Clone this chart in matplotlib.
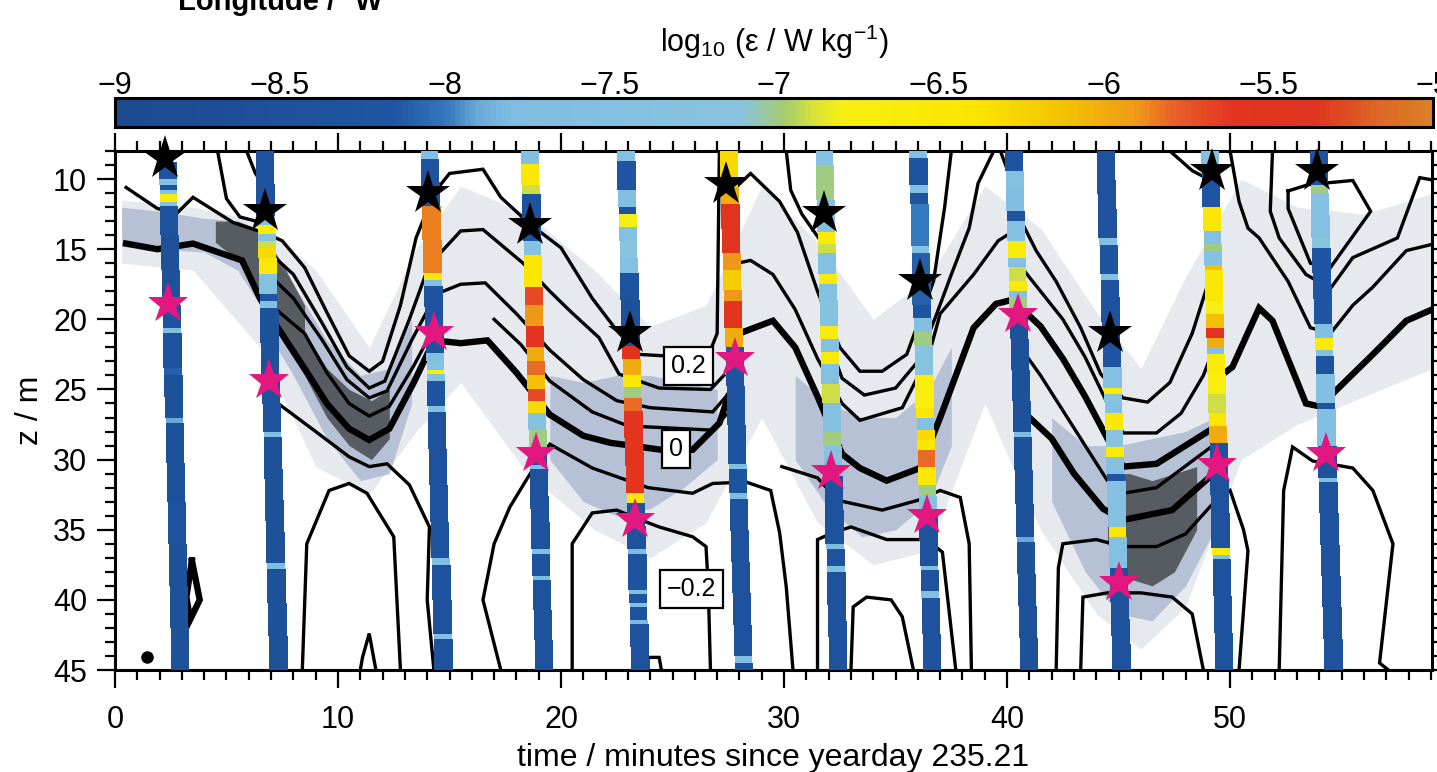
import matplotlib
matplotlib.use("Agg")
import matplotlib.pyplot as plt
import numpy as np
from matplotlib.colors import LinearSegmentedColormap, Normalize
from matplotlib.cm import ScalarMappable
from matplotlib.ticker import MultipleLocator

plt.rcParams['font.family'] = ['Liberation Sans', 'DejaVu Sans']
plt.rcParams['mathtext.default'] = 'regular'

# ---- microstructure profiles: time at top (z=8 m) and bottom (z=45 m) of each drop
prof_t_top = [2.35, 6.7, 14.1, 18.6, 22.9, 27.5, 31.8, 36.0, 40.3, 44.4, 49.1, 53.95]
prof_t_bot = [2.95, 7.35, 14.75, 19.25, 23.55, 28.2, 32.45, 36.65, 41.0, 45.15, 49.75, 54.65]

# segment edges (m) and log10 epsilon of each segment
p1_z = [8.8, 10.0, 10.4, 10.8, 11.1, 11.6, 11.9, 14.0, 19.0, 20.6, 21.0, 23.5, 24.0, 27.0, 27.4, 33.0, 36.0, 45.0]
p1_e = [-8.3, -7.6, -8.4, -7.6, -6.6, -7.5, -8.4, -8.5, -8.4, -7.7, -8.4, -8.1, -8.5, -7.9, -8.5, -8.4, -8.5]
p2_z = [8.0, 12.6, 13.3, 13.9, 14.4, 14.9, 15.6, 16.8, 18.2, 18.7, 19.2, 19.4, 24.0, 28.0, 28.4, 37.4, 37.8, 45.0]
p2_e = [-8.4, -7.5, -6.6, -7.4, -6.9, -6.3, -6.5, -7.4, -8.2, -7.6, -8.4, -8.5, -8.4, -7.7, -8.5, -7.8, -8.5]
p3_z = [8.0, 8.6, 11.9, 16.7, 17.2, 17.6, 20.6, 22.4, 23.0, 23.6, 23.9, 24.4, 26.2, 26.6, 37.0, 37.5, 42.4, 42.8, 45.0]
p3_e = [-7.6, -8.3, -5.85, -6.5, -7.6, -8.3, -8.4, -7.6, -7.3, -6.6, -7.5, -8.3, -7.6, -8.4, -7.7, -8.4, -7.6, -8.4]
p4_z = [8.0, 8.9, 10.4, 11.1, 14.4, 15.4, 17.7, 19.0, 20.5, 22.0, 23.0, 24.0, 25.0, 25.8, 26.7, 27.9, 29.6,
        30.4, 30.7, 36.4, 36.7, 38.3, 38.6, 45.0]
p4_e = [-7.6, -6.5, -6.9, -8.3, -7.3, -6.5, -5.7, -5.9, -5.6, -6.0, -5.8, -6.1, -5.7, -6.3, -7.3, -7.0, -8.3,
        -7.6, -8.4, -7.7, -8.4, -7.8, -8.4]
p5_z = [8.0, 8.7, 10.8, 12.0, 12.5, 13.4, 14.4, 15.6, 16.7, 18.6, 21.9, 22.8, 24.0, 24.8, 25.6, 26.5, 32.4,
        33.1, 36.4, 36.7, 39.3, 39.6, 40.2, 40.5, 41.4, 41.7, 45.0]
p5_e = [-7.5, -8.2, -7.6, -8.3, -6.8, -7.5, -7.1, -7.5, -8.3, -8.5, -5.5, -6.0, -6.5, -7.0, -5.8, -5.6, -6.5,
        -8.4, -7.8, -8.4, -7.6, -8.3, -7.6, -8.4, -7.8, -8.4]
p6_z = [8.0, 10.6, 11.8, 15.3, 16.5, 17.9, 18.7, 20.6, 22.0, 30.3, 30.7, 32.4, 32.8, 44.0, 44.5, 45.0]
p6_e = [-6.3, -6.0, -5.5, -5.9, -6.2, -5.9, -5.6, -6.0, -8.3, -7.7, -8.3, -7.8, -8.4, -7.6, -8.4]
p7_z = [8.0, 9.0, 11.5, 13.8, 14.6, 15.3, 16.8, 17.5, 18.6, 20.5, 21.4, 22.3, 23.2, 24.6, 26.0, 28.0, 29.0,
        31.2, 36.0, 36.4, 37.6, 38.0, 45.0]
p7_e = [-7.5, -7.0, -7.5, -6.6, -6.9, -7.5, -6.6, -7.5, -7.3, -6.6, -7.4, -6.6, -7.4, -6.9, -7.4, -7.0, -7.3,
        -8.4, -7.8, -8.4, -7.7, -8.4]
p8_z = [8.0, 8.5, 10.4, 11.0, 11.8, 14.8, 15.3, 19.0, 19.9, 20.9, 21.8, 24.0, 26.3, 27.0, 27.9, 28.6, 29.3,
        30.5, 31.8, 32.6, 34.0, 37.6, 37.9, 39.4, 39.9, 45.0]
p8_e = [-7.6, -8.3, -7.7, -8.4, -8.0, -7.5, -8.1, -8.3, -7.6, -7.0, -7.2, -6.7, -6.5, -7.5, -6.3, -6.5, -5.8,
        -6.5, -7.0, -7.5, -8.4, -7.7, -8.4, -7.6, -8.4]
p9_z = [8.0, 9.4, 10.6, 12.3, 13.0, 14.4, 15.6, 16.3, 17.3, 18.0, 18.4, 19.2, 28.0, 28.4, 35.5, 35.9, 45.0]
p9_e = [-8.3, -7.5, -7.7, -8.3, -7.5, -6.6, -7.5, -6.9, -6.6, -7.5, -7.0, -8.5, -7.8, -8.5, -7.9, -8.5]
p10_z = [8.0, 14.2, 14.7, 16.8, 17.2, 18.4, 22.0, 23.4, 24.9, 25.3, 25.8, 26.7, 27.9, 29.1, 29.8, 31.0, 31.5,
         34.8, 35.5, 37.7, 45.0]
p10_e = [-8.4, -7.6, -8.3, -7.6, -8.3, -8.4, -8.2, -7.5, -6.6, -7.2, -7.5, -6.5, -7.2, -6.6, -7.5, -8.2, -7.5,
         -6.4, -7.5, -8.4]
p11_z = [8.0, 9.0, 10.4, 12.0, 13.7, 14.6, 15.1, 16.1, 16.5, 18.7, 19.6, 20.6, 21.3, 22.0, 22.5, 23.9, 25.3,
         26.7, 27.6, 28.8, 36.3, 36.8, 37.1, 45.0]
p11_e = [-7.6, -8.3, -8.2, -6.5, -7.5, -7.0, -7.5, -6.1, -6.5, -6.8, -6.1, -5.6, -6.0, -7.5, -6.6, -6.7, -6.9,
         -6.4, -6.0, -8.4, -6.6, -7.6, -8.4]
p12_z = [8.0, 10.4, 11.0, 14.2, 14.9, 20.3, 21.3, 22.2, 22.6, 23.9, 26.0, 26.4, 29.0, 31.3, 31.6, 45.0]
p12_e = [-8.3, -7.0, -7.5, -7.1, -8.2, -7.6, -6.6, -7.5, -8.3, -7.6, -8.3, -7.6, -8.4, -7.7, -8.4]

prof_z = [p1_z, p2_z, p3_z, p4_z, p5_z, p6_z, p7_z, p8_z, p9_z, p10_z, p11_z, p12_z]
prof_e = [p1_e, p2_e, p3_e, p4_e, p5_e, p6_e, p7_e, p8_e, p9_e, p10_e, p11_e, p12_e]

# ---- star markers
black_t = [2.24, 6.73, 14.05, 18.6, 23.1, 27.4, 31.8, 36.1, 44.6, 49.2, 53.9]
black_z = [8.5, 12.3, 11.0, 13.3, 21.0, 10.35, 12.4, 17.3, 21.0, 9.4, 9.4]
pink_t = [2.4, 6.9, 14.3, 18.9, 23.3, 27.8, 32.1, 36.4, 40.5, 45.0, 49.4, 54.3]
pink_z = [18.9, 24.4, 21.0, 29.6, 34.3, 22.8, 30.9, 34.0, 19.7, 38.8, 30.4, 29.6]

# ---- contour lines (time, depth)
iso_02 = [(0.5, 10.6), (1.9, 12.1), (2.8, 12.4), (3.5, 11.3), (5.3, 13.1), (6.8, 13.9), (7.5, 14.4), (8.5, 16.3),
          (9.5, 19.5), (10.5, 22.6), (11.4, 23.7), (12.0, 23.0), (12.8, 19.0), (13.5, 14.2), (14.3, 11.0),
          (15.0, 9.6), (16.5, 9.3), (17.3, 11.3), (18.6, 13.2), (20.0, 14.9), (21.4, 18.5), (22.5, 20.8),
          (23.5, 22.5), (25.7, 22.7), (26.6, 22.6), (27.0, 21.0), (27.1, 8.0)]
top_a = [(4.6, 8.0), (5.0, 11.4), (5.6, 12.7), (6.8, 13.2)]
top_b = [(5.9, 8.0), (6.3, 9.6), (6.9, 11.0)]
iso_015 = [(6.9, 15.2), (8.0, 16.8), (9.3, 20.3), (10.4, 23.4), (11.4, 24.9), (12.1, 24.4), (13.2, 20.0),
           (14.0, 16.5), (14.4, 15.6), (15.5, 13.7), (16.5, 13.6), (18.3, 16.0), (19.5, 18.0), (20.4, 19.4),
           (21.7, 21.3), (22.6, 23.9), (23.5, 24.4), (24.4, 24.9), (26.7, 25.0), (27.3, 24.0)]
iso_010 = [(6.9, 16.8), (8.0, 18.5), (9.3, 21.5), (10.4, 24.3), (11.4, 25.6), (12.2, 25.1), (13.3, 21.5),
           (14.4, 18.2), (15.5, 17.5), (16.6, 17.4), (18.0, 19.6), (19.5, 22.2), (21.0, 24.3), (22.5, 25.8),
           (24.0, 26.3), (26.8, 26.6), (27.4, 25.5)]
iso_005a = [(7.0, 19.0), (8.5, 21.0), (9.5, 23.8), (10.5, 26.0), (11.4, 26.9), (12.3, 26.2), (13.4, 23.3),
            (14.4, 20.3)]
iso_005b = [(17.0, 20.0), (18.2, 21.8), (19.5, 24.4), (21.4, 26.6), (23.0, 27.6), (26.8, 27.9), (27.4, 26.8)]
iso_0 = [(0.5, 14.6), (1.9, 15.0), (3.5, 14.6), (5.7, 15.8), (6.5, 18.5), (7.3, 20.6), (8.5, 23.5), (9.5, 26.0),
         (10.5, 27.8), (11.4, 28.6), (12.3, 27.8), (13.4, 24.5), (14.3, 21.5), (15.5, 21.7), (16.7, 21.5),
         (18.0, 23.8), (19.5, 26.8), (21.0, 28.3), (22.2, 28.8), (24.5, 29.3), (25.9, 29.3), (27.1, 27.4),
         (27.5, 25.5)]
iso_m005 = [(6.9, 25.5), (7.4, 26.1), (9.0, 28.0), (10.5, 29.8), (11.4, 30.5), (12.2, 30.3), (13.2, 31.8),
            (14.1, 34.8), (14.0, 40.0), (14.3, 45.0)]
arch1 = [(8.4, 45.0), (8.6, 36.0), (9.6, 32.2), (10.5, 31.7), (11.3, 32.4), (12.5, 35.5), (12.8, 45.0)]
arch1_in = [(11.0, 45.0), (11.1, 44.1), (11.4, 42.4), (11.7, 45.0)]
loop1 = [(3.45, 37.2), (3.8, 40.0), (3.37, 41.4), (3.2, 39.8), (3.45, 37.2)]
arch2 = [(17.3, 45.0), (16.5, 40.0), (17.0, 36.0), (17.7, 33.4), (18.5, 31.3), (19.5, 28.9), (21.4, 30.6),
         (23.9, 32.0), (25.9, 32.4), (26.8, 31.7), (28.3, 31.6), (29.4, 32.2), (29.8, 35.2), (30.1, 39.1),
         (30.4, 45.0)]
arch2_in = [(20.5, 45.0), (20.5, 36.0), (21.4, 33.8), (22.5, 33.6), (23.9, 34.5), (24.4, 34.8), (25.9, 35.5),
            (26.5, 36.2), (26.6, 39.0), (26.7, 45.0)]
bump2 = [(23.9, 45.0), (23.9, 44.1), (24.4, 44.1), (24.5, 45.0)]
r_top = [(30.1, 8.0), (30.3, 10.8), (30.8, 12.5), (31.9, 15.0)]
r_1 = [(27.9, 10.5), (28.5, 9.6), (29.8, 11.6), (30.6, 13.8), (31.5, 18.0), (32.5, 22.0), (33.4, 23.7),
       (34.4, 23.7), (35.5, 22.5), (36.7, 17.3), (37.2, 12.0), (37.5, 8.0)]
r_1b = [(39.4, 8.0), (38.7, 10.3), (38.3, 13.5), (37.5, 16.8), (36.8, 19.8), (36.0, 23.0), (35.0, 24.9),
        (33.6, 25.4), (32.6, 24.2), (32.1, 22.0)]
r_2 = [(27.9, 16.0), (28.5, 15.8), (29.5, 16.8), (30.5, 19.3), (31.5, 22.8), (32.6, 26.0), (33.4, 27.2),
       (35.3, 26.3), (36.5, 22.5), (37.0, 19.6), (38.5, 16.8), (39.6, 14.4), (40.5, 13.5)]
r_3 = [(28.0, 21.0), (29.5, 20.1), (30.5, 22.0), (31.5, 25.5), (32.6, 29.6), (33.4, 30.6), (34.6, 31.5),
       (36.1, 30.6), (37.0, 27.0), (38.5, 20.6), (39.5, 18.9), (40.5, 18.5)]
r_4 = [(29.9, 30.5), (31.5, 31.3), (32.4, 32.9), (34.4, 33.6), (36.0, 32.9), (37.0, 32.2), (37.9, 32.7),
       (38.3, 36.0), (38.4, 45.0)]
arch3 = [(31.5, 45.0), (31.5, 35.7), (32.2, 35.2), (33.0, 34.8), (34.6, 35.7), (36.4, 35.7), (37.1, 36.6),
         (37.7, 45.0)]
arch3_in = [(33.0, 45.0), (33.1, 40.5), (33.7, 39.8), (34.8, 40.0), (35.3, 41.2), (35.8, 45.0)]
q_0 = [(47.3, 8.0), (48.3, 9.4), (49.5, 10.4)]
q_1 = [(39.7, 8.0), (40.4, 11.0), (40.7, 13.2), (41.3, 15.1), (42.2, 17.3), (43.3, 20.6), (44.2, 23.9),
       (45.2, 25.6), (46.3, 25.9), (47.3, 24.5), (48.3, 21.0), (49.3, 16.0)]
q_2 = [(40.5, 16.0), (41.5, 18.0), (42.5, 20.0), (43.5, 22.7), (44.5, 26.0), (45.2, 28.1), (46.7, 28.1),
       (47.8, 26.7), (48.8, 24.0), (49.4, 21.5)]
q_3 = [(40.5, 19.0), (41.5, 20.5), (42.5, 22.8), (43.5, 25.5), (44.5, 28.5), (45.2, 30.5), (46.7, 30.3),
       (48.0, 29.0), (49.3, 27.7)]
q_4 = [(40.6, 22.0), (41.5, 24.0), (42.5, 26.5), (43.5, 29.0), (44.5, 31.5), (45.2, 32.4), (46.7, 32.0),
       (48.3, 30.1), (49.4, 28.8)]
q_5 = [(41.0, 27.0), (42.0, 28.5), (43.0, 31.0), (44.3, 33.5), (45.2, 34.3), (47.4, 33.6), (48.9, 31.5),
       (49.4, 30.8)]
arch4 = [(42.2, 45.0), (42.3, 37.7), (42.5, 36.0), (44.0, 35.7), (45.2, 36.2), (46.7, 36.2), (48.0, 35.3),
         (49.3, 33.0), (50.0, 32.2), (50.6, 35.0), (50.8, 36.5), (50.4, 45.0)]
arch4_in = [(43.3, 45.0), (43.4, 39.8), (44.5, 39.5), (46.0, 39.5), (47.4, 39.8), (48.3, 41.0), (48.8, 45.0)]
w_0 = [(49.6, 24.0), (50.1, 23.4), (51.3, 19.2), (51.9, 20.1), (53.4, 26.0), (54.3, 26.3), (54.6, 25.3),
       (56.4, 22.5), (57.9, 20.1), (59.2, 19.2)]
w_1 = [(50.0, 8.0), (50.4, 11.6), (50.8, 13.5), (51.3, 14.2), (52.6, 17.3), (53.6, 20.6), (54.5, 21.0),
       (55.5, 19.0), (56.4, 17.7), (57.9, 15.1), (59.2, 14.6)]
w_2 = [(51.9, 8.0), (51.8, 12.3), (52.2, 14.2), (53.4, 16.8), (54.5, 17.8), (55.5, 15.6), (57.5, 14.2),
       (58.5, 9.9), (59.2, 10.1)]
loop12 = [(52.6, 10.85), (53.5, 10.4), (55.5, 10.1), (56.3, 12.3), (54.5, 16.3), (53.6, 16.0), (52.6, 12.1),
          (52.6, 10.85)]
arch5 = [(52.2, 45.0), (52.4, 32.2), (52.8, 29.1), (53.7, 30.1), (55.5, 30.6), (56.4, 32.2), (57.3, 36.0),
         (56.7, 44.5), (57.1, 45.0)]

thin_lines = [iso_02, top_a, top_b, iso_015, iso_010, iso_005a, iso_005b, iso_m005, arch1, arch1_in, arch2,
              arch2_in, bump2, r_top, r_1, r_1b, r_2, r_4, arch3, arch3_in, q_0, q_1, q_2, q_4, arch4,
              arch4_in, w_1, w_2, loop12, arch5]
thick_lines = [iso_0, loop1, r_3, q_3, q_5, w_0]

# contour labels
label_text = ['0.2', '0', '\u22120.2']
label_t = [25.7, 25.15, 25.85]
label_z = [23.3, 29.25, 39.25]

# ---- grey shading of backscatter (time, upper depth, lower depth)
light_t = [0.3, 3.5, 6.5, 9.0, 11.4, 13.5, 15.5, 18.5, 21.5, 24.0, 26.5, 29.0, 31.5, 34.0, 36.5, 39.0, 41.5,
           44.0, 46.0, 48.0, 50.5, 53.0, 56.0, 59.1]
light_top = [11.5, 12.0, 13.0, 16.5, 22.0, 15.0, 10.5, 12.5, 16.5, 20.5, 19.0, 10.5, 14.5, 20.0, 17.0, 10.5,
             13.5, 19.5, 23.5, 17.0, 10.0, 12.0, 12.5, 11.0]
light_bot = [16.0, 16.5, 22.0, 30.5, 32.5, 28.0, 24.5, 31.0, 35.0, 37.0, 34.5, 27.0, 34.5, 37.5, 36.5, 26.0,
             35.0, 41.0, 43.5, 40.5, 30.0, 27.5, 25.5, 23.5]
mid_patches = [
    ([0.3, 2.0, 4.0, 5.5, 6.5], [12.0, 12.3, 12.8, 13.0, 14.0], [14.8, 15.0, 15.2, 16.5, 19.0]),
    ([6.5, 8.0, 9.5, 11.0, 12.3, 13.3], [14.5, 17.5, 21.5, 24.0, 23.5, 20.0], [20.0, 24.0, 28.5, 31.5, 31.0, 26.0]),
    ([19.5, 21.0, 22.5, 24.0, 25.5, 27.0], [24.0, 24.5, 24.0, 24.0, 24.5, 25.0], [30.0, 33.0, 34.0, 33.5, 32.0, 30.0]),
    ([30.5, 32.0, 33.5, 35.0, 36.5, 37.5], [24.0, 26.0, 27.0, 27.0, 25.0, 22.0], [30.0, 33.5, 35.5, 35.0, 33.0, 29.0]),
    ([42.0, 43.5, 45.0, 46.5, 48.0, 49.3], [27.0, 29.0, 29.0, 28.5, 28.0, 27.0], [33.0, 38.0, 41.0, 41.5, 39.0, 35.0]),
]
dark_patches = [
    ([4.5, 5.5, 6.5, 7.5, 8.5], [13.0, 13.0, 13.6, 16.0, 19.0], [14.5, 15.8, 18.0, 21.5, 24.0]),
    ([8.5, 9.5, 10.5, 11.5, 12.3], [21.0, 23.5, 25.0, 25.8, 25.0], [24.0, 27.0, 29.0, 30.0, 28.5]),
    ([44.5, 45.5, 46.5, 47.5, 48.5], [31.0, 31.0, 31.5, 31.0, 30.5], [36.0, 38.5, 39.0, 38.0, 35.0]),
]

# ---- colour scale
cmap = LinearSegmentedColormap.from_list('eps', [
    (0.000, '#1b4a8e'), (0.212, '#1f56a3'), (0.250, '#3377bd'), (0.275, '#6aaad8'),
    (0.300, '#7fbde2'), (0.475, '#88c4df'), (0.508, '#a5cc6e'), (0.530, '#d8e23a'),
    (0.550, '#f7ef10'), (0.650, '#fbe600'), (0.725, '#f2c000'), (0.775, '#ef9a18'),
    (0.805, '#e8602a'), (0.850, '#e2341f'), (0.912, '#e03520'), (0.962, '#dd6826'),
    (1.000, '#dc7f28')])
norm = Normalize(vmin=-9, vmax=-5)

fig = plt.figure(figsize=(14.37, 7.72), dpi=100)
ax = fig.add_axes([0.0800, 0.1321, 0.9165, 0.6723])
cax = fig.add_axes([0.0800, 0.8355, 0.9172, 0.0376])

ax.fill_between(light_t, light_top, light_bot, color='#e6e9ee', lw=0, zorder=1)
for pt, ptop, pbot in mid_patches:
    ax.fill_between(pt, ptop, pbot, color='#aab7cf', lw=0, zorder=1.2, alpha=0.8)
for pt, ptop, pbot in dark_patches:
    ax.fill_between(pt, ptop, pbot, color='#47494e', lw=0, zorder=1.4, alpha=0.85)

for ln in thin_lines:
    a = np.array(ln)
    ax.plot(a[:, 0], a[:, 1], color='black', lw=2.4, zorder=2, solid_joinstyle='miter')
for ln in thick_lines:
    a = np.array(ln)
    ax.plot(a[:, 0], a[:, 1], color='black', lw=4.6, zorder=2, solid_joinstyle='miter')
ax.plot([1.43], [44.1], 'o', color='black', ms=8, zorder=2)

for txt, lt, lz in zip(label_text, label_t, label_z):
    ax.text(lt, lz, txt, fontsize=18, ha='center', va='center', zorder=2.5,
            bbox=dict(boxstyle='square,pad=0.28', fc='white', ec='black', lw=1.6))

hw = 0.39
for t0, t1, ze, ee in zip(prof_t_top, prof_t_bot, prof_z, prof_e):
    ze = np.array(ze)
    xc = t0 + (t1 - t0) * (ze - 8.0) / 37.0
    X = np.column_stack([xc - hw, xc + hw])
    Y = np.column_stack([ze, ze])
    C = np.array(ee)[:, None]
    ax.pcolormesh(X, Y, C, cmap=cmap, norm=norm, shading='flat', zorder=3, edgecolors='none')

ax.plot(pink_t, pink_z, '*', color='#e2177f', ms=31, mew=0, zorder=4, clip_on=False)
ax.plot(black_t, black_z, '*', color='black', ms=33, mew=0, zorder=4, clip_on=False)

ax.set_xlim(0, 59.05)
ax.set_ylim(45, 8.0)
ax.xaxis.set_major_locator(MultipleLocator(10))
ax.xaxis.set_minor_locator(MultipleLocator(1))
ax.yaxis.set_major_locator(MultipleLocator(5))
ax.yaxis.set_minor_locator(MultipleLocator(1))
ax.tick_params(which='both', direction='out', top=True, right=True, width=1.6, labelsize=22)
ax.tick_params(which='major', length=13, pad=7)
ax.tick_params(which='minor', length=7)
ax.tick_params(axis='x', which='major', pad=12)
for s in ax.spines.values():
    s.set_linewidth(2.2)
ax.set_xlabel('time / minutes since yearday 235.21', fontsize=23, labelpad=6)
ax.set_ylabel('z / m', fontsize=23, labelpad=6)

sm = ScalarMappable(norm=norm, cmap=cmap)
cb = fig.colorbar(sm, cax=cax, orientation='horizontal')
cb.outline.set_linewidth(2.2)
cax.xaxis.set_ticks_position('top')
cb.set_ticks([-9, -8.5, -8, -7.5, -7, -6.5, -6, -5.5, -5])
cb.set_ticklabels(['\u22129', '\u22128.5', '\u22128', '\u22127.5', '\u22127', '\u22126.5', '\u22126',
                   '\u22125.5', '\u22125'])
cax.tick_params(length=0, labelsize=22, pad=-2)
cax.minorticks_off()

fig.text(774 / 1437, 1 - 42 / 772, r'log$_{10}$ ($\varepsilon$ / W kg$^{-1}$)', fontsize=22,
         ha='center', va='center')
fig.text(280 / 1437, 1 - 10 / 772, 'Longitude / \u00b0W', fontsize=21, fontweight='bold',
         ha='center', va='baseline')

fig.savefig('out.png', dpi=100)
